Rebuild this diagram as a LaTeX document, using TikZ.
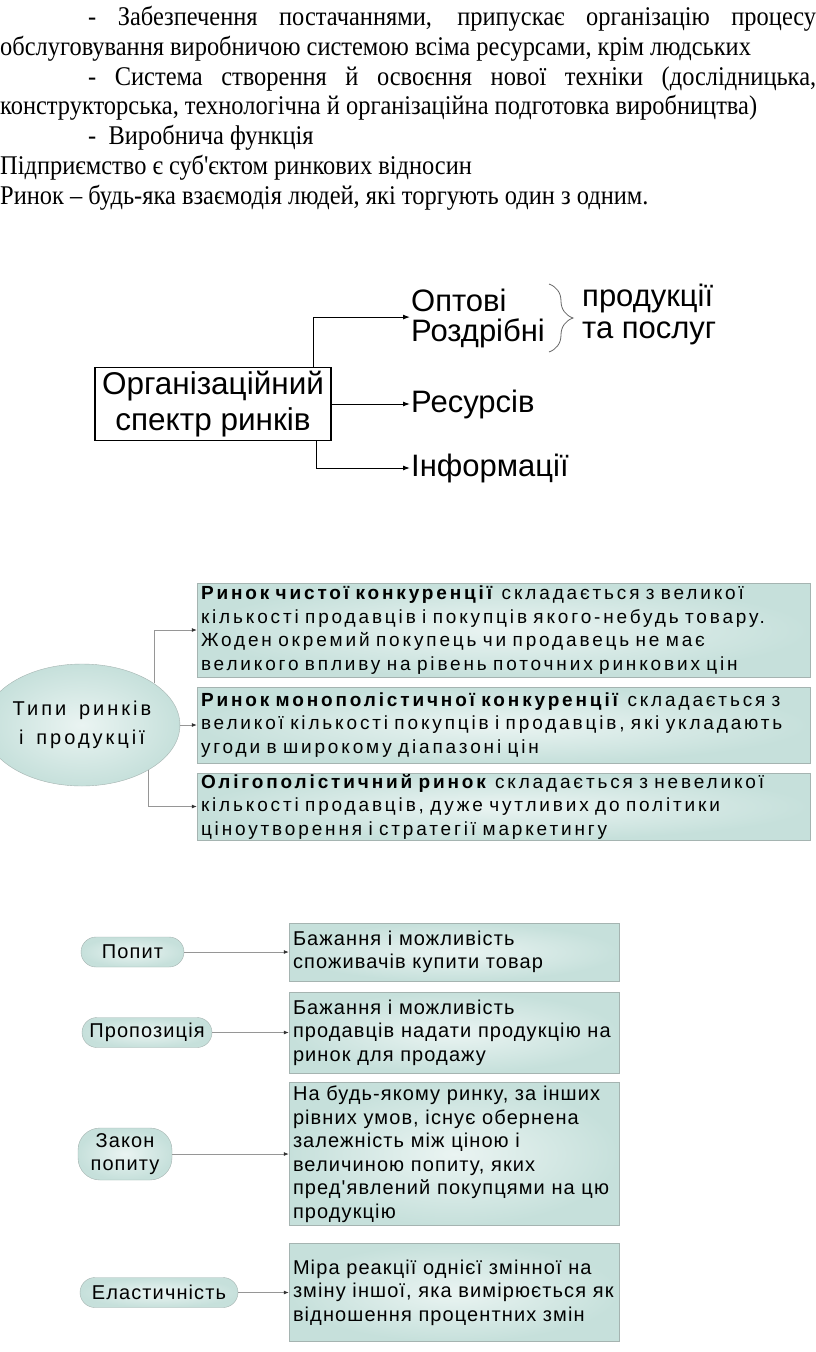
\documentclass[tikz,border=0pt]{standalone}
\usepackage{fontspec}
\setsansfont{Liberation Sans}
\newfontfamily\bodyserif[FakeStretch=0.905]{Liberation Serif}
\newfontfamily\widesans[LetterSpace=15,WordSpace=1.5]{Liberation Sans}
\newfontfamily\boxsans[LetterSpace=5.5]{Liberation Sans}
\usetikzlibrary{arrows.meta, positioning, shapes.geometric, calc, decorations.pathreplacing}

\definecolor{tealL}{RGB}{234,244,242}
\definecolor{tealD}{RGB}{198,224,219}
\definecolor{boxline}{RGB}{165,180,177}
\definecolor{linegray}{RGB}{150,150,150}

\begin{document}
\begin{tikzpicture}[
    x=1pt, y=-1pt,
    textline/.style={anchor=base west, inner sep=0pt, font=\bodyserif\fontsize{27}{30}\selectfont},
    orgbox/.style={draw, line width=1.2pt, minimum width=236pt, minimum height=72pt, align=center, font=\sffamily\fontsize{31.5}{36}\selectfont},
    orglabel/.style={anchor=west, inner sep=1pt, font=\sffamily\fontsize{31}{36}\selectfont},
    arr/.style={line width=1pt, -{Latex[length=7pt,width=5pt]}},
    garr/.style={draw=linegray, line width=0.8pt, -{Latex[length=5pt,width=4pt,color=black!80]}},
    typebox/.style={draw=boxline, inner color=tealL, outer color=tealD, text width=605pt, inner xsep=4pt, inner ysep=0pt, align=left, font=\widesans\fontsize{19}{23.5}\selectfont},
    infobox/.style={draw=boxline, inner color=tealL, outer color=tealD, text width=322pt, inner xsep=4pt, inner ysep=0pt, align=left, font=\boxsans\fontsize{20}{23.5}\selectfont},
    pill/.style={draw=boxline, rounded corners=15pt, inner color=tealL, outer color=tealD, minimum height=30pt, inner sep=0pt, align=center, font=\boxsans\fontsize{20}{23.5}\selectfont}
]
    \fill[white] (0,0) rectangle (816,1352);
    \useasboundingbox (0,0) rectangle (816,1352);

    % верхній текст
    \node[textline] (l1) at (88,25) {\makebox[728pt][s]{- Забезпечення постачаннями, припускає організацію процесу}};
    \node[textline] (l2) at (0,55) {обслуговування виробничою системою всіма ресурсами, крім людських};
    \node[textline] (l3) at (88,85) {\makebox[728pt][s]{- Система створення й освоєння нової техніки (дослідницька,}};
    \node[textline] (l4) at (0,114) {конструкторська, технологічна й організаційна подготовка виробництва)};
    \node[textline] (l5) at (88,144) {-\ \ Виробнича функція};
    \node[textline] (l6) at (0,174) {Підприємство є суб'єктом ринкових відносин};
    \node[textline] (l7) at (0,204) {Ринок – будь-яка взаємодія людей, які торгують один з одним.};

    % організаційний спектр ринків
    \node[orgbox] (org) at (213,404) {Організаційний\\спектр ринків};
    \node[orglabel] (opt) at (410,300) {Оптові};
    \node[orglabel] (rozd) at (410,333) {Роздрібні};
    \node[orglabel] (res) at (410,404) {Ресурсів};
    \node[orglabel] (inf) at (410,468) {Інформації};
    \node[orglabel] (prod) at (581,298) {продукції};
    \node[orglabel] (posl) at (581,333) {та послуг};
    \draw[black!60, line width=0.8pt, decorate, decoration={brace, amplitude=24pt, aspect=0.5}] (549,284) -- (549,352);
    \draw[arr] ([xshift=-18pt]org.north east) |- ([yshift=-6pt]opt.base west);
    \draw[arr] (org.east) -- (res.west);
    \draw[arr] ([xshift=-15pt]org.south east) |- (inf.west);

    % типи ринків
    \node[ellipse, draw=boxline, inner color=tealL, outer color=tealD, minimum width=164pt, minimum height=122pt, inner sep=0pt, align=center, font=\widesans\fontsize{20}{29}\selectfont] (types) at (82,725) {Типи ринків\\і продукції};
    \node[typebox, minimum height=94pt] (pure) at (503.5,630) {\textbf{Ринок чистої конкуренції} складається з великої\\кількості продавців і покупців якого-небудь товару.\\Жоден окремий покупець чи продавець не має\\великого впливу на рівень поточних ринкових цін};
    \node[typebox, minimum height=76pt] (monop) at (503.5,725) {\textbf{Ринок монополістичної конкуренції} складається з\\великої кількості покупців і продавців, які укладають\\угоди в широкому діапазоні цін};
    \node[typebox, minimum height=67pt] (oligo) at (503.5,806.5) {\textbf{Олігополістичний ринок} складається з невеликої\\кількості продавців, дуже чутливих до політики\\ціноутворення і стратегії маркетингу};
    \draw[garr] (types.30) |- (pure.west);
    \draw[garr] (types.east) -- (monop.west);
    \draw[garr] (types.-34) |- (oligo.west);

    % попит, пропозиція, еластичність
    \node[pill, minimum width=103pt] (demand) at (132.5,952) {Попит};
    \node[pill, minimum width=130pt] (supply) at (147,1032.5) {Пропозиція};
    \node[pill, minimum width=94pt, minimum height=52pt, rounded corners=22pt] (law) at (125,1154) {Закон\\попиту};
    \node[pill, minimum width=158pt] (elastic) at (159,1292.5) {Еластичність};
    \node[infobox, minimum height=58pt] (demanddef) at (454,952) {Бажання і можливість\\споживачів купити товар};
    \node[infobox, minimum height=81pt] (supplydef) at (454,1032.5) {Бажання і можливість\\продавців надати продукцію на\\ринок для продажу};
    \node[infobox, minimum height=143pt] (lawdef) at (454,1154) {На будь-якому ринку, за інших\\рівних умов, існує обернена\\залежність між ціною і\\величиною попиту, яких\\пред'явлений покупцями на цю\\продукцію};
    \node[infobox, minimum height=98pt] (elasticdef) at (454,1292.5) {Міра реакції однієї змінної на\\зміну іншої, яка вимірюється як\\відношення процентних змін};
    \draw[garr] (demand.east) -- (demanddef.west);
    \draw[garr] (supply.east) -- (supplydef.west);
    \draw[garr] (law.east) -- (lawdef.west);
    \draw[garr] (elastic.east) -- (elasticdef.west);
\end{tikzpicture}
\end{document}
